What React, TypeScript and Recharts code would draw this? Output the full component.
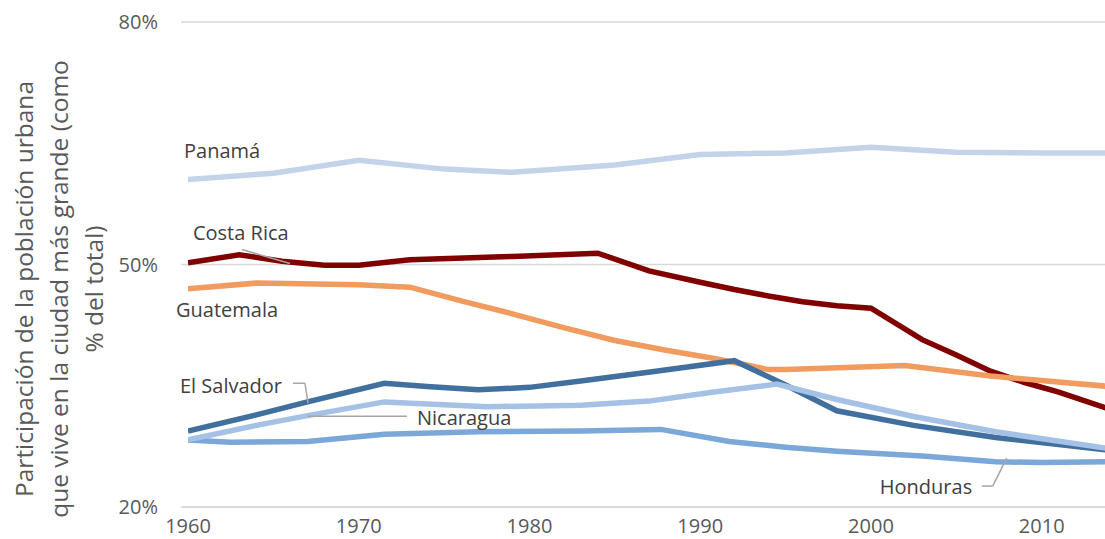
import React from "react";
import { CartesianGrid, Line, LineChart, ReferenceDot, ReferenceLine, XAxis, YAxis } from "recharts";

const yearTicks = [1960, 1970, 1980, 1990, 2000, 2010];
const pctTicks = [20, 50, 80];

const panamaYears = [1960, 1965, 1970, 1975, 1979, 1985, 1990, 1995, 2000, 2005, 2010, 2014];
const panamaValues = [60.5, 61.3, 62.9, 61.8, 61.4, 62.3, 63.6, 63.8, 64.5, 63.9, 63.8, 63.8];

const costaRicaYears = [1960, 1963, 1965.5, 1968, 1970, 1973, 1979, 1984, 1987, 1990, 1992, 1994, 1996, 1998, 2000, 2003, 2005, 2007, 2009, 2011, 2014];
const costaRicaValues = [50.2, 51.2, 50.4, 49.9, 49.9, 50.6, 51.0, 51.4, 49.2, 47.8, 46.9, 46.1, 45.4, 44.9, 44.6, 40.7, 38.8, 36.8, 35.4, 34.2, 32.1];

const guatemalaYears = [1960, 1964, 1970, 1973, 1976, 1979, 1982, 1985, 1988, 1991, 1994, 1995, 2002, 2007, 2014];
const guatemalaValues = [47.0, 47.7, 47.5, 47.2, 45.5, 43.9, 42.2, 40.6, 39.4, 38.3, 37.0, 37.0, 37.5, 36.2, 34.9];

const salvadorYears = [1960, 1964, 1967, 1971.5, 1974, 1977, 1980, 1983, 1987.4, 1992, 1995, 1998, 2002.5, 2007.3, 2014];
const salvadorValues = [29.4, 31.4, 33.0, 35.3, 34.9, 34.5, 34.8, 35.6, 36.8, 38.1, 35.1, 31.9, 30.1, 28.6, 27.0];

const nicaraguaYears = [1960, 1964, 1967, 1971.5, 1977.5, 1983, 1987, 1990.7, 1994.5, 1998, 2002.5, 2007.3, 2014];
const nicaraguaValues = [28.3, 30.1, 31.3, 33.0, 32.4, 32.6, 33.1, 34.2, 35.2, 33.3, 31.2, 29.3, 27.2];

const hondurasYears = [1960, 1962.5, 1967, 1971.5, 1977, 1983, 1987.7, 1991.7, 1995, 1998, 2003, 2007.3, 2010, 2014];
const hondurasValues = [28.3, 28.0, 28.1, 29.0, 29.3, 29.4, 29.6, 28.1, 27.4, 26.9, 26.3, 25.6, 25.5, 25.6];

const yTitleLines = [
  "Participación de la población urbana",
  "que vive en la ciudad más grande (como",
  "% del total)",
];

// label anchors (left edge, vertical middle) in data units
const tags = [
  { text: "Panamá", year: 1959.77, value: 64.07 },
  { text: "Costa Rica", year: 1960.29, value: 53.95 },
  { text: "Guatemala", year: 1959.3, value: 44.44 },
  { text: "El Salvador", year: 1959.53, value: 35.06 },
  { text: "Nicaragua", year: 1973.41, value: 31.11 },
  { text: "Honduras", year: 2000.52, value: 22.59 },
];

const leaders = [
  [{ x: 1963.16, y: 51.85 }, { x: 1965.97, y: 50.12 }],
  [{ x: 1966.15, y: 35.31 }, { x: 1966.85, y: 35.31 }],
  [{ x: 1966.85, y: 35.31 }, { x: 1967.03, y: 32.84 }],
  [{ x: 1967.03, y: 31.23 }, { x: 1972.82, y: 31.23 }],
  [{ x: 2006.49, y: 22.59 }, { x: 2007.13, y: 22.59 }],
  [{ x: 2007.13, y: 22.59 }, { x: 2007.95, y: 26.05 }],
];

const zip = (years: number[], values: number[]) => years.map((year, i) => ({ year, v: values[i] }));

const series = [
  { name: "Panamá", data: zip(panamaYears, panamaValues), color: "#C3D4EA" },
  { name: "Costa Rica", data: zip(costaRicaYears, costaRicaValues), color: "#800000" },
  { name: "Guatemala", data: zip(guatemalaYears, guatemalaValues), color: "#F19B5F" },
  { name: "Honduras", data: zip(hondurasYears, hondurasValues), color: "#7BA7D9" },
  { name: "El Salvador", data: zip(salvadorYears, salvadorValues), color: "#41709F" },
  { name: "Nicaragua", data: zip(nicaraguaYears, nicaraguaValues), color: "#A5C1E5" },
];

const renderTag = (text: string) => (props: any) => {
  const { viewBox } = props;
  return (
    <text x={viewBox.x} y={viewBox.y} dominantBaseline="central" fill="#404040" fontSize={20}>
      {text}
    </text>
  );
};

export default function App() {
  return (
    <div
      style={{
        position: "absolute",
        left: 0,
        top: 0,
        width: 1105,
        height: 539,
        overflow: "hidden",
        background: "#fff",
        fontFamily: "'Open Sans', sans-serif",
      }}
    >
      <svg width={181} height={539} style={{ position: "absolute", left: 0, top: 0 }}>
        {yTitleLines.map((t, i) => (
          <text
            key={i}
            transform={`translate(${33 + i * 35}, 289) rotate(-90)`}
            textAnchor="middle"
            fill="#595959"
            fontSize={24.5}
          >
            {t}
          </text>
        ))}
      </svg>
      <LineChart width={1110} height={539} margin={{ top: 22, right: 0, bottom: 4, left: 0 }} style={{ position: "absolute", left: 0, top: 0 }}>
        <CartesianGrid vertical={false} stroke="#D9D9D9" strokeWidth={1.5} />
        <XAxis
          dataKey="year"
          type="number"
          domain={[1960, 2014]}
          ticks={yearTicks}
          padding={{ left: 7, right: 0 }}
          allowDataOverflow
          axisLine={{ stroke: "#D9D9D9", strokeWidth: 1.5 }}
          tickLine={false}
          tickSize={0}
          tickMargin={12}
          tick={{ fill: "#595959", fontSize: 20 }}
          height={28}
        />
        <YAxis
          type="number"
          domain={[20, 80]}
          ticks={pctTicks}
          tickFormatter={(v: number) => `${v}%`}
          axisLine={false}
          tickLine={false}
          tickSize={0}
          tickMargin={23}
          tick={{ fill: "#595959", fontSize: 20 }}
          width={181}
        />
        {series.map((s) => (
          <Line
            key={s.name}
            data={s.data}
            dataKey="v"
            name={s.name}
            type="linear"
            stroke={s.color}
            strokeWidth={5.5}
            dot={false}
            activeDot={false}
            isAnimationActive={false}
          />
        ))}
        {leaders.map((seg, i) => (
          <ReferenceLine key={i} segment={seg} stroke="#A6A6A6" strokeWidth={1.5} ifOverflow="visible" />
        ))}
        {tags.map((t) => (
          <ReferenceDot
            key={t.text}
            x={t.year}
            y={t.value}
            r={0}
            fill="none"
            stroke="none"
            ifOverflow="visible"
            label={{ content: renderTag(t.text) }}
          />
        ))}
      </LineChart>
    </div>
  );
}
